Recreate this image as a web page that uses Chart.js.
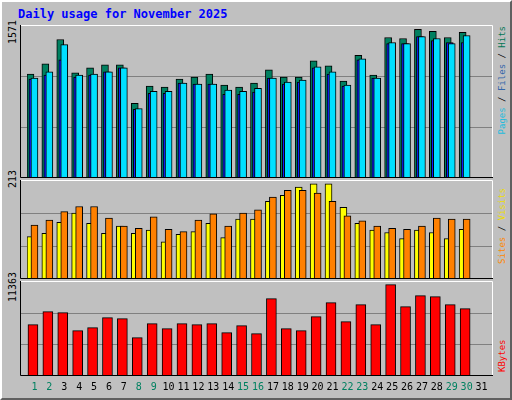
<!DOCTYPE html>
<html>
<head>
<meta charset="utf-8">
<script src="https://cdn.jsdelivr.net/npm/chart.js@4"></script>
<style>
  body { margin: 0; background: #fff; }
  #page { position: absolute; left: 0; top: 0; width: 508px; height: 396px; background: #c0c0c0;
          border-top: 2px solid #fff; border-left: 2px solid #fff; border-right: 2px solid #606060; border-bottom: 2px solid #606060; }
  .box { position: absolute; }
  .txt { position: absolute; font-family: "DejaVu Sans Mono", monospace; font-size: 9px; white-space: nowrap; line-height: 12px; }
  .rot { transform: rotate(-90deg); transform-origin: center center; }
</style>
</head>
<body>
<div id="page">
  <div class="txt" style="left:16px;top:6px;color:#0000ff;font-weight:bold;font-size:12px;">Daily usage for November 2025</div>

  <div class="box" style="left:18px;top:23px;width:473px;height:153px"><canvas id="c1"></canvas></div>
  <div class="box" style="left:18px;top:178px;width:473px;height:99px"><canvas id="c2"></canvas></div>
  <div class="box" style="left:18px;top:279px;width:473px;height:117px"><canvas id="c3"></canvas></div>

  <div class="txt rot" style="left:-9px;top:32px;width:40px;height:12px;text-align:right;color:#000;font-size:10px">1571</div>
  <div class="txt rot" style="left:-9px;top:182px;width:40px;height:12px;text-align:right;color:#000;font-size:10px">213</div>
  <div class="txt rot" style="left:-9px;top:284px;width:40px;height:12px;text-align:right;color:#000;font-size:10px">11363</div>

  <div class="txt rot" style="left:444px;top:74px;width:112px;height:12px;text-align:right;">
    <span style="color:#22bbdd">Pages</span> / <span style="color:#3366aa">Files</span> / <span style="color:#007755">Hits</span></div>
  <div class="txt rot" style="left:450px;top:230px;width:100px;height:12px;text-align:right;">
    <span style="color:#ff8800">Sites</span> / <span style="color:#eedd00">Visits</span></div>
  <div class="txt rot" style="left:460px;top:324px;width:80px;height:12px;text-align:left;">
    <span style="color:#ff0000">KBytes</span></div>
</div>
<script>
const days = ["1","2","3","4","5","6","7","8","9","10","11","12","13","14","15","16","17","18","19","20","21","22","23","24","25","26","27","28","29","30","31"];
const weekend = ["1","2","8","9","15","16","22","23","29","30"];

const hits = [1068,1172,1422,1079,1131,1162,1162,766,943,933,1016,1037,1068,954,933,975,1110,1037,1037,1203,1151,995,1259,1058,1443,1432,1526,1505,1443,1495,null];
const files = [1016,1058,1214,1037,1058,1089,1131,704,870,870,975,964,964,860,860,881,1027,964,985,1131,1068,943,1214,1027,1380,1380,1453,1411,1391,1391,null];
const pages = [1027,1089,1370,1058,1068,1089,1131,714,891,891,975,964,964,902,891,922,1027,985,1006,1141,1089,954,1224,1027,1391,1380,1453,1432,1380,1463,null];

const visits = [91,98,122,142,120,98,114,98,105,80,96,102,120,89,129,129,167,180,198,205,205,154,120,105,100,87,105,100,87,107,null];
const sites = [116,127,145,156,156,131,114,109,134,107,102,127,140,114,142,149,176,191,191,185,167,136,125,114,109,107,114,131,129,129,null];

const kbytes = [6140,7695,7575,5422,5781,6977,6858,4585,6260,5662,6260,6140,6260,5183,6020,5063,9250,5662,5422,7097,8771,6499,8532,6140,10924,8293,9609,9489,8532,8054,null];

const maxHits = 1571, maxVisits = 213, maxKb = 11363;

// shift each bar sideways so they overlap like the original
const shiftPlugin = {
  id: "shift",
  afterDatasetsUpdate(chart) {
    chart.data.datasets.forEach((ds, i) => {
      const meta = chart.getDatasetMeta(i);
      meta.data.forEach(el => { el.x += ds.shift || 0; });
    });
  }
};

// frame around the whole panel (wider than the category area)
const framePlugin = {
  id: "frame",
  afterDraw(chart) {
    const a = chart.chartArea, ctx = chart.ctx;
    const l = 0, r = chart.width;
    ctx.save();
    ctx.lineWidth = 1;
    ctx.strokeStyle = "#ffffff";
    ctx.beginPath();
    ctx.moveTo(l + 0.5, a.top + 0.5); ctx.lineTo(r - 0.5, a.top + 0.5); ctx.lineTo(r - 0.5, a.bottom);
    ctx.stroke();
    ctx.strokeStyle = "#000000";
    ctx.beginPath();
    ctx.moveTo(l + 0.5, a.top); ctx.lineTo(l + 0.5, a.bottom - 0.5); ctx.lineTo(r, a.bottom - 0.5);
    ctx.stroke();
    ctx.restore();
  },
  beforeDatasetsDraw(chart) {
    // extend gridlines to the full panel width
    const a = chart.chartArea, ctx = chart.ctx, y = chart.scales.y;
    ctx.save();
    ctx.strokeStyle = "#808080";
    ctx.lineWidth = 1;
    y.ticks.forEach(t => {
      if (t.value <= 0 || t.value >= y.max) return;
      const py = Math.round(y.getPixelForValue(t.value)) + 0.5;
      ctx.beginPath(); ctx.moveTo(0, py); ctx.lineTo(chart.width, py); ctx.stroke();
    });
    ctx.restore();
  }
};

function bar(label, data, color, width, shift, order) {
  return {
    label: label, data: data, backgroundColor: color, borderColor: "#000", borderWidth: 1,
    borderSkipped: false, barThickness: width, grouped: false, shift: shift, order: order
  };
}

function makeChart(id, datasets, max, showX) {
  return new Chart(document.getElementById(id), {
    type: "bar",
    data: { labels: days, datasets: datasets },
    options: {
      responsive: true, maintainAspectRatio: false, animation: false,
      layout: { padding: { left: 7, right: 4 } },
      plugins: { legend: { display: false }, tooltip: { enabled: false } },
      scales: {
        x: {
          display: showX,
          grid: { display: false, drawTicks: false },
          border: { display: false },
          ticks: {
            autoSkip: false, maxRotation: 0, padding: 5,
            font: { family: "DejaVu Sans Mono", size: 10 },
            color: ctx => weekend.includes(days[ctx.index]) ? "#008060" : "#000"
          }
        },
        y: {
          min: 0, max: max,
          afterBuildTicks: axis => { axis.ticks = [0, max / 3, 2 * max / 3, max].map(v => ({ value: v })); },
          ticks: { display: false },
          grid: { display: false, drawTicks: false },
          border: { display: false }
        }
      }
    },
    plugins: [shiftPlugin, framePlugin]
  });
}

makeChart("c1", [
  bar("Hits", hits, "#008060", 7, -4, 3),
  bar("Files", files, "#1020ff", 7, -2, 2),
  bar("Pages", pages, "#00e0ff", 7, 0, 1)
], maxHits, false);

makeChart("c2", [
  bar("Visits", visits, "#ffff00", 7, -4, 2),
  bar("Sites", sites, "#ff8000", 7, 0, 1)
], maxVisits, false);

makeChart("c3", [
  bar("KBytes", kbytes, "#ff0000", 10, -1.5, 1)
], maxKb, true);
</script>
</body>
</html>
